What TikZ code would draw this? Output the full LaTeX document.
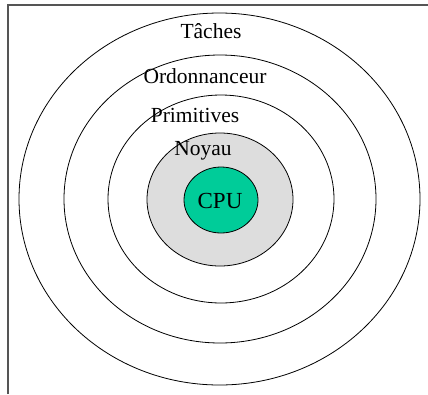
\documentclass[tikz,border=0pt]{standalone}
\usepackage{fontspec}
\setmainfont{Liberation Serif}
\usetikzlibrary{shapes.geometric}
\definecolor{cpugreen}{HTML}{00CC99}
\definecolor{kernelgrey}{HTML}{DDDDDD}
\definecolor{framegrey}{HTML}{555555}
\tikzset{
  ring/.style={draw=black, line width=0.8pt, ellipse, inner sep=0pt, outer sep=0pt},
  lbl/.style={anchor=base, inner sep=0pt, font=\fontsize{21.5}{24}\selectfont},
  frameline/.style={draw=framegrey, line width=1.8pt},
}
\begin{document}
\begin{tikzpicture}[x=1pt, y=-1pt]
\useasboundingbox (0,0) rectangle (428,394);
% frame
\coordinate (fl) at (8,394);
\coordinate (fc) at (8,5);
\coordinate (fr) at (428,5);
\draw[frameline] (fl) -- (fc) -- (fr);
% rings
\node[ring, minimum width=401pt, minimum height=372pt] (taches) at (219.5,199) {};
\node[ring, minimum width=312pt, minimum height=288pt] (ordo) at (220,199) {};
\node[ring, minimum width=226pt, minimum height=208pt] (prim) at (221,199) {};
\node[ring, fill=kernelgrey, minimum width=146pt, minimum height=133pt] (noyau) at (220,199.5) {};
\node[ring, fill=cpugreen, minimum width=74pt, minimum height=66pt] (cpu) at (221,200) {};
% labels
\node[lbl] (tTaches) at (211,38) {Tâches};
\node[lbl] (tOrdo) at (205,83) {Ordonnanceur};
\node[lbl] (tPrim) at (195,122) {Primitives};
\node[lbl] (tNoyau) at (203,155) {Noyau};
\node[lbl, font=\fontsize{23}{26}\selectfont] (tCPU) at (220,208) {CPU};
\end{tikzpicture}
\end{document}
